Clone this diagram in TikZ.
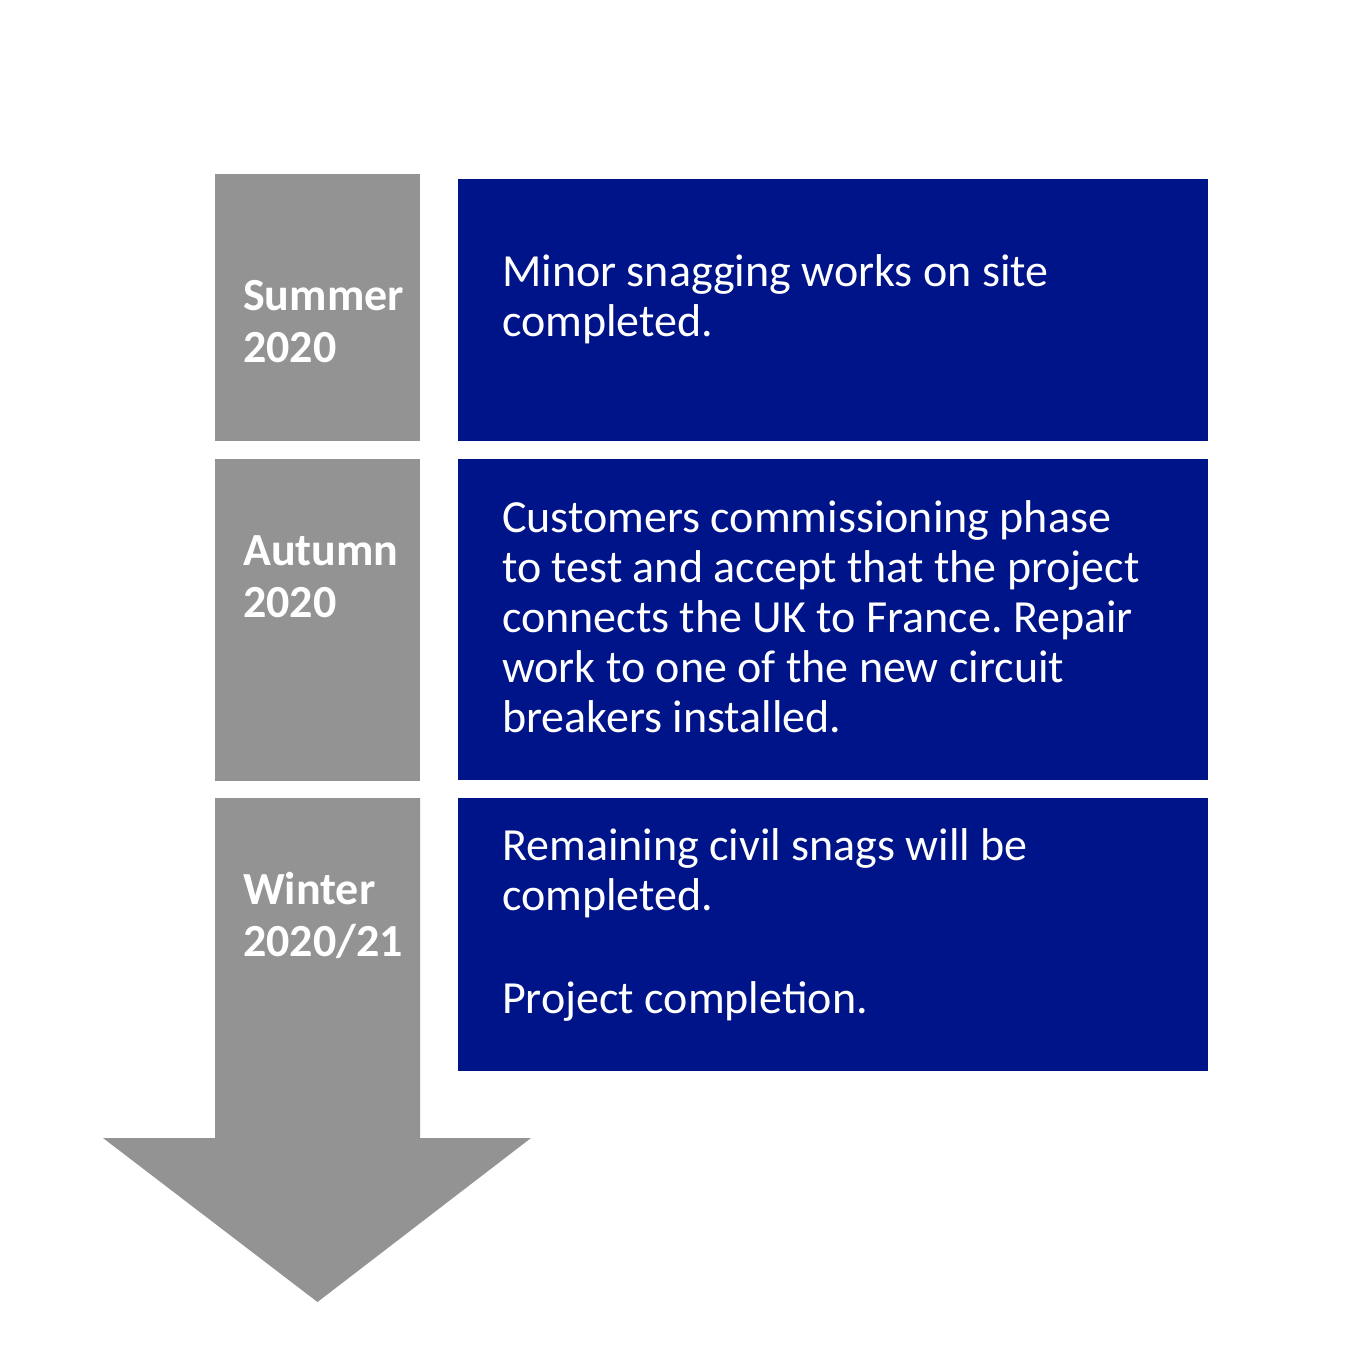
\documentclass[tikz,border=0pt]{standalone}
\usepackage{fontspec}
\setmainfont{Carlito}
\frenchspacing
\definecolor{periodgray}{RGB}{147,147,147}
\definecolor{workblue}{RGB}{0,20,137}
\begin{document}
\begin{tikzpicture}[x=1pt, y=-1pt,
    period/.style={anchor=base west, inner sep=0pt, align=left, text=white,
        font=\fontsize{46}{52}\selectfont\bfseries},
    work/.style={anchor=base west, inner sep=0pt, align=left, text=white,
        font=\fontsize{46}{50}\selectfont}]
        \useasboundingbox (0,0) rectangle (1354,1358);
        % time column
        \fill[periodgray] (215,174) rectangle (420,441);
        \fill[periodgray] (215,459) rectangle (420,781);
        \fill[periodgray] (215,798) -- (420,798) -- (420,1138) -- (531,1138)
            -- (317.5,1302) -- (103,1138) -- (215,1138) -- cycle;
        % work boxes
        \fill[workblue] (458,179) rectangle (1208,441);
        \fill[workblue] (458,459) rectangle (1208,780);
        \fill[workblue] (458,798) rectangle (1208,1071);
        % base anchor sits on the last line
        \node[period] (summer) at (243,362){Summer\\2020};
        \node[period] (autumn) at (243,617){Autumn\\2020};
        \node[period] (winter) at (243,956){Winter\\2020/21};
        \node[work] (worksummer) at (502,336){Minor snagging works on site\\completed.};
        \node[work] (workautumn) at (502,732){Customers commissioning phase\\to test and accept that the project\\connects the UK to France. Repair\\work to one of the new circuit\\breakers installed.};
        \node[work] (workwinter) at (502,1013){Remaining civil snags will be\\completed.\\[53pt]Project completion.};
    \end{tikzpicture}
\end{document}
